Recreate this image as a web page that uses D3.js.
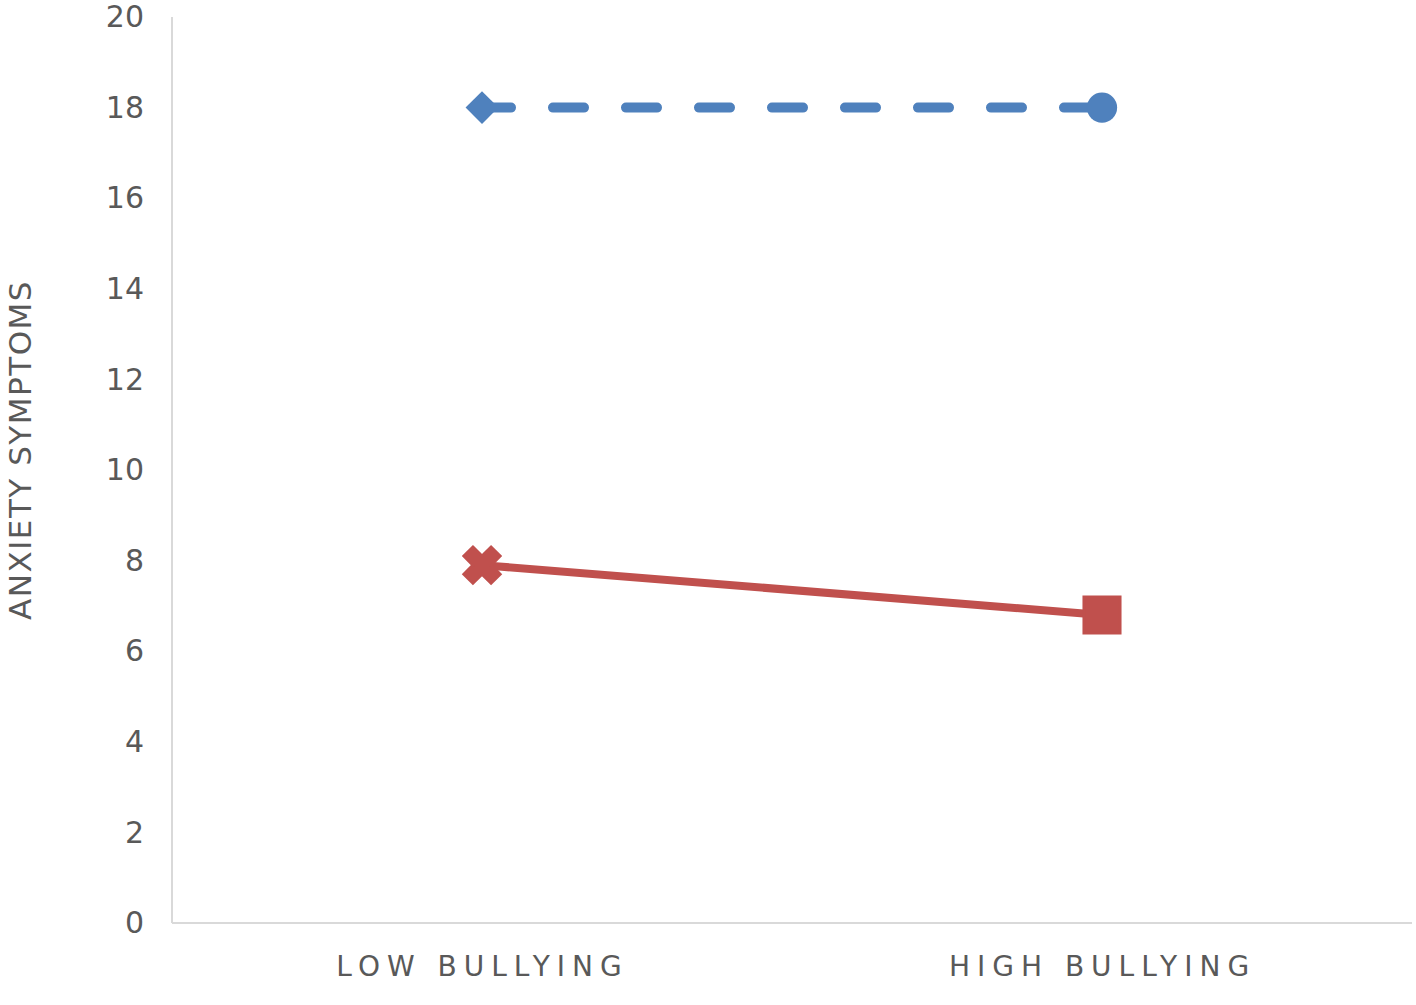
<!DOCTYPE html>
<html lang="en">
<head>
  <meta charset="UTF-8">
  <title>Anxiety symptoms by bullying</title>
  <script src="https://d3js.org/d3.v7.min.js"></script>
  <style>
    body { margin: 0; background: #fff; }
    text { font-family: "DejaVu Sans", sans-serif; fill: #595959; }
  </style>
</head>
<body>
  <svg width="1416" height="1005"></svg>

  <script>
    // Data
    const categories = ["LOW BULLYING", "HIGH BULLYING"];
    const dashedValues = [18, 18];     // blue dashed series
    const solidValues = [7.9, 6.8];    // red solid series
    const yTicks = [0, 2, 4, 6, 8, 10, 12, 14, 16, 18, 20];
    const yTitle = "ANXIETY SYMPTOMS";

    const svg = d3.select("svg");

    const plotLeft = 172, plotRight = 1412, plotTop = 17, plotBottom = 923;

    const x = d3.scalePoint()
      .domain(categories)
      .range([plotLeft, plotRight])
      .padding(0.5);

    const y = d3.scaleLinear()
      .domain([0, 20])
      .range([plotBottom, plotTop]);

    // Axis lines (no ticks, no grid)
    svg.append("line")
      .attr("x1", plotLeft).attr("x2", plotLeft)
      .attr("y1", y(20)).attr("y2", plotBottom)
      .attr("stroke", "#d9d9d9").attr("stroke-width", 2);
    svg.append("line")
      .attr("x1", plotLeft).attr("x2", plotRight)
      .attr("y1", plotBottom).attr("y2", plotBottom)
      .attr("stroke", "#d9d9d9").attr("stroke-width", 2);

    // Y axis labels
    const yAxis = d3.axisLeft(y).tickValues(yTicks).tickSize(0).tickPadding(0);
    const gy = svg.append("g")
      .attr("transform", "translate(144,0)")
      .call(yAxis);
    gy.select(".domain").remove();
    gy.selectAll("text")
      .attr("font-size", 30)
      .attr("font-family", "DejaVu Sans")
      .attr("fill", "#595959");

    // X axis labels
    const xAxis = d3.axisBottom(x).tickSize(0).tickPadding(0);
    const gx = svg.append("g")
      .attr("transform", `translate(0,${plotBottom + 33})`)
      .call(xAxis);
    gx.select(".domain").remove();
    gx.selectAll("text")
      .attr("font-size", 28)
      .attr("font-family", "DejaVu Sans")
      .attr("letter-spacing", 7)
      .attr("fill", "#595959");

    // Y axis title
    svg.append("text")
      .attr("transform", `translate(31,${(275 + 625) / 2}) rotate(-90)`)
      .attr("text-anchor", "middle")
      .attr("font-size", 31)
      .attr("letter-spacing", 1.5)
      .text(yTitle);

    const line = d3.line()
      .x((d, i) => x(categories[i]))
      .y(d => y(d));

    // Blue dashed series
    svg.append("path")
      .datum(dashedValues)
      .attr("d", line)
      .attr("fill", "none")
      .attr("stroke", "#4f81bd")
      .attr("stroke-width", 10)
      .attr("stroke-dasharray", "31,42")
      .attr("stroke-dashoffset", 2)
      .attr("stroke-linecap", "round");

    // Red solid series
    svg.append("path")
      .datum(solidValues)
      .attr("d", line)
      .attr("fill", "none")
      .attr("stroke", "#c0504d")
      .attr("stroke-width", 8);

    // Markers: blue diamond + circle, red x + square
    const blueSymbols = [
      { type: d3.symbolSquare, size: 540, rot: 45 },
      { type: d3.symbolCircle, size: 720, rot: 0 }
    ];
    const redSymbols = [
      { type: d3.symbolCross, size: 820, rot: 45 },
      { type: d3.symbolSquare, size: 1300, rot: 0 }
    ];

    svg.append("g").selectAll("path")
      .data(dashedValues)
      .join("path")
      .attr("d", (d, i) => d3.symbol(blueSymbols[i].type, blueSymbols[i].size)())
      .attr("transform", (d, i) => `translate(${x(categories[i])},${y(d)}) rotate(${blueSymbols[i].rot})`)
      .attr("fill", "#4f81bd");

    svg.append("g").selectAll("path")
      .data(solidValues)
      .join("path")
      .attr("d", (d, i) => d3.symbol(redSymbols[i].type, redSymbols[i].size)())
      .attr("transform", (d, i) => `translate(${x(categories[i])},${y(d)}) rotate(${redSymbols[i].rot})`)
      .attr("fill", "#c0504d")
      .attr("stroke", "#c0504d")
      .attr("stroke-width", 3);
  </script>
</body>
</html>
